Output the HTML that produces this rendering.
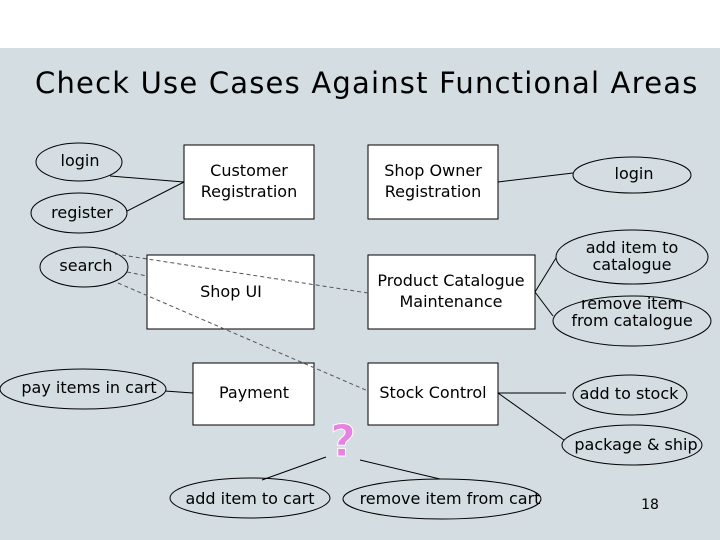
<!DOCTYPE html>
<html><head><style>
body{margin:0;width:720px;height:540px;overflow:hidden;background:#fff}
svg{display:block}
text{font-family:"DejaVu Sans","Liberation Sans",sans-serif;font-size:16px;fill:#000}
</style></head><body>
<svg width="720" height="540" xmlns="http://www.w3.org/2000/svg">
<rect x="0" y="0" width="720" height="48" fill="#fff"/>
<rect x="0" y="48" width="720" height="492" fill="#d3dde2"/>
<text x="35" y="93" style="font-size:29px;letter-spacing:1.2px">Check Use Cases Against Functional Areas</text>
<g fill="#fff" stroke="#000" stroke-width="1">
<rect x="184" y="145" width="130" height="74"/>
<rect x="147" y="255" width="167" height="74"/>
<rect x="193" y="363" width="121" height="62"/>
<rect x="368" y="145" width="130" height="74"/>
<rect x="368" y="255" width="167" height="74"/>
<rect x="368" y="363" width="130" height="62"/>
</g>
<g fill="none" stroke="#000" stroke-width="1">
<ellipse cx="79" cy="162" rx="43" ry="19"/>
<ellipse cx="79" cy="213" rx="48" ry="20"/>
<ellipse cx="84" cy="267" rx="44" ry="20"/>
<ellipse cx="83" cy="389" rx="83" ry="20"/>
<ellipse cx="632" cy="175" rx="59" ry="18"/>
<ellipse cx="632" cy="257" rx="76" ry="27"/>
<ellipse cx="632" cy="321" rx="79" ry="25"/>
<ellipse cx="630" cy="395" rx="57" ry="20"/>
<ellipse cx="632" cy="445" rx="70" ry="20"/>
<ellipse cx="250" cy="498" rx="80" ry="20"/>
<ellipse cx="442" cy="499" rx="99" ry="20"/>
<line x1="110" y1="176" x2="184" y2="182"/>
<line x1="127" y1="211" x2="184" y2="182"/>
<line x1="165" y1="391" x2="193" y2="393"/>
<line x1="498" y1="182" x2="573" y2="173"/>
<line x1="535" y1="292" x2="556" y2="258"/>
<line x1="535" y1="292" x2="553" y2="316"/>
<line x1="498" y1="393" x2="566" y2="393"/>
<line x1="498" y1="393" x2="564" y2="440"/>
<line x1="262" y1="480" x2="326" y2="457"/>
<line x1="360" y1="460" x2="440" y2="479"/>
</g>
<g fill="none" stroke="#555" stroke-width="1" stroke-dasharray="4,3">
<line x1="115" y1="254" x2="368" y2="293"/>
<line x1="127" y1="272" x2="147" y2="276"/>
<line x1="118" y1="283" x2="368" y2="391"/>
</g>
<g text-anchor="middle">
<text x="249" y="176">Customer</text>
<text x="249" y="197">Registration</text>
<text x="231" y="297">Shop UI</text>
<text x="254" y="398">Payment</text>
<text x="433" y="176">Shop Owner</text>
<text x="433" y="197">Registration</text>
<text x="451" y="286">Product Catalogue</text>
<text x="451" y="307">Maintenance</text>
<text x="433" y="398">Stock Control</text>
<text x="80" y="166">login</text>
<text x="82" y="218">register</text>
<text x="86" y="271">search</text>
<text x="89" y="393">pay items in cart</text>
<text x="634" y="179">login</text>
<text x="632" y="253">add item to</text>
<text x="632" y="270">catalogue</text>
<text x="632" y="309">remove item</text>
<text x="632" y="326">from catalogue</text>
<text x="629" y="399">add to stock</text>
<text x="636" y="450">package &amp; ship</text>
<text x="250" y="504">add item to cart</text>
<text x="450" y="504">remove item from cart</text>
<text x="650" y="509" style="font-size:14px">18</text>
<text x="343" y="456" style="font-size:44px;font-weight:bold;fill:#e882e0;stroke:#fff;stroke-width:1">?</text>
</g>
</svg>
</body></html>
